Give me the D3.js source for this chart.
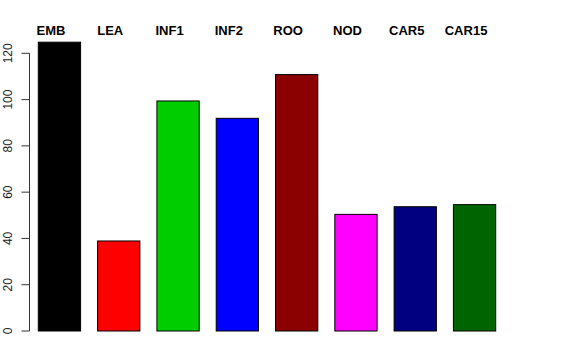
<!DOCTYPE html>
<html>
<head>
<meta charset="utf-8">
<script src="https://cdn.jsdelivr.net/npm/d3@7"></script>
<style>
  body { margin: 0; background: #fff; }
  svg { display: block; font-family: "Liberation Sans", Arial, Helvetica, sans-serif; }
</style>
</head>
<body>
<div id="app"></div>
<script>
const categories = ["EMB", "LEA", "INF1", "INF2", "ROO", "NOD", "CAR5", "CAR15"];
const values = [124.8, 38.9, 99.4, 91.9, 110.8, 50.4, 53.7, 54.6];
const colors = ["#000000", "#ff0000", "#00cd00", "#0000ff", "#8b0000", "#ff00ff", "#000080", "#006400"];
const yTicks = [0, 20, 40, 60, 80, 100, 120];

const width = 576;
const height = 360;

const svg = d3.select("#app").append("svg").attr("width", width).attr("height", height);

const x = d3.scaleBand().domain(categories).range([38.3, 495.7]).paddingInner(0.287).paddingOuter(0);
const y = d3.scaleLinear().domain([0, 120]).range([331, 53.3]);

// BARS
svg
  .selectAll("rect.bar")
  .data(categories)
  .join("rect")
  .attr("class", "bar")
  .attr("x", d => x(d))
  .attr("y", (d, i) => y(values[i]))
  .attr("width", x.bandwidth())
  .attr("height", (d, i) => y(0) - y(values[i]))
  .attr("fill", (d, i) => colors[i])
  .attr("stroke", "#000")
  .attr("stroke-width", 1);

// LABELS ABOVE (slightly left of bar centre, as in the original)
svg
  .selectAll("text.lab")
  .data(categories)
  .join("text")
  .attr("class", "lab")
  .attr("x", d => x(d) + x.bandwidth() / 2 - 8.5)
  .attr("y", 34.5)
  .attr("text-anchor", "middle")
  .attr("font-weight", "bold")
  .attr("font-size", 13)
  .text(d => d);

// Y AXIS (R style)
const axisX = 29.5;
const yAxis = svg.append("g");
yAxis
  .append("line")
  .attr("x1", axisX)
  .attr("x2", axisX)
  .attr("y1", y(0))
  .attr("y2", y(120))
  .attr("stroke", "#333");
yAxis
  .selectAll("line.tick")
  .data(yTicks)
  .join("line")
  .attr("class", "tick")
  .attr("x1", axisX - 8)
  .attr("x2", axisX)
  .attr("y1", d => y(d))
  .attr("y2", d => y(d))
  .attr("stroke", "#333");
yAxis
  .selectAll("text")
  .data(yTicks)
  .join("text")
  .attr("transform", d => `translate(12,${y(d)}) rotate(-90)`)
  .attr("text-anchor", "middle")
  .attr("font-size", 12)
  .attr("fill", "#222")
  .text(d => d);
</script>
</body>
</html>
